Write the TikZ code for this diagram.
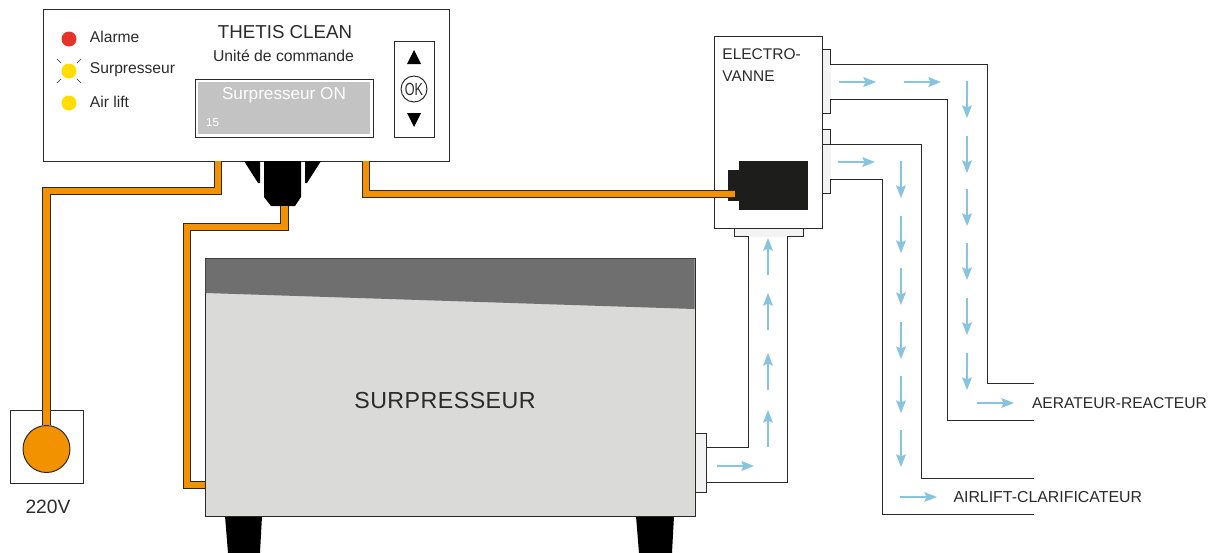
\documentclass[tikz,border=0pt]{standalone}
\usepackage{fontspec}
\setmainfont{Liberation Sans}
\usetikzlibrary{arrows.meta}

\definecolor{ink}{HTML}{2B2A29}
\definecolor{flowblue}{HTML}{86C4E0}
\definecolor{cableorange}{HTML}{F39200}
\definecolor{bodygrey}{HTML}{DADAD9}
\definecolor{lidgrey}{HTML}{706F6F}
\definecolor{screengrey}{HTML}{C3C3C3}
\definecolor{flangegrey}{HTML}{F3F3F3}
\definecolor{ledred}{HTML}{E6332A}
\definecolor{ledyellow}{HTML}{FFDD00}
\definecolor{solid}{HTML}{1D1D1B}

\tikzset{
	box/.style 2 args={draw=ink, rectangle, inner sep=0, outer sep=0, minimum width=#1*0.025cm, minimum height=#2*0.025cm},
	lab/.style={font=\fontsize{#1}{#1}\selectfont, inner sep=0, text=ink},
	led/.style={circle, inner sep=0, minimum size=15*0.025cm},
	cable/.style={draw=ink, line width=0.75pt, double=cableorange, double distance=4.5pt},
	pipe/.style={draw=ink, line width=0.7pt},
	flow/.style={draw=flowblue, line width=0.8pt, ->},
}

\begin{document}
\begin{tikzpicture}[x=0.025cm, y=-0.025cm, line width=0.7pt, >={Stealth[length=9pt, width=7pt, inset=1.5pt]}]
	\useasboundingbox (0,0) rectangle (1219,553);

	% compressor
	\fill [solid] (225,516) -- (262,516) -- (260,553) -- (228,553) -- cycle;
	\fill [solid] (636,516) -- (674,516) -- (672,553) -- (639,553) -- cycle;
	\node [box={490}{258}, fill=bodygrey] (surpresseur) at (450,387) {};
	\fill [lidgrey] (205.5,258.5) -- (694.5,258.5) -- (694.5,309) -- (205.5,293) -- cycle;
	\node [lab=16.5] (surplabel) at (445,401) {\addfontfeatures{LetterSpace=2}SURPRESSEUR};
	\node [box={11}{59}, fill=flangegrey] (outlet) at (701,462.5) {};

	% control unit
	\node [box={406}{152}] (panel) at (246,85) {};
	\node [led, fill=ledred] (ledalarm) at (69,39) {};
	\node [led, fill=ledyellow] (ledsurp) at (69,71) {};
	\node [led, fill=ledyellow] (ledair) at (69,103) {};
	\foreach \a in {45,135,225,315}
		\draw [line width=0.5pt, ink] (ledsurp.center) ++(\a:11) -- ++(\a:6);
	\node [lab=11.1, anchor=west] (txtalarm) at (89.5,37) {Alarme};
	\node [lab=11.1, anchor=west] (txtsurp) at (89.5,70) {Surpresseur};
	\node [lab=11.1, anchor=west] (txtair) at (89.5,102) {Air lift};
	\node [lab=13.3] (title) at (285,32) {THETIS CLEAN};
	\node [lab=11.2] (subtitle) at (283.5,56) {Unité de commande};
	\node [box={178}{58}, fill=white] (display) at (284,108) {};
	\node [box={172}{52}, draw=none, fill=screengrey] (screen) at (284,108) {};
	\node [lab=12.2, text=white] (screentext) at (284,95) {Surpresseur ON};
	\node [lab=8.3, text=white] (screencount) at (212.5,122.5) {15};
	\node [box={40}{96}] (keys) at (414,89) {};
	\node [circle, draw=ink, inner sep=0, minimum size=26*0.025cm] (ok) at (414,89) {};
	\node [lab=12.5] (oktext) at (414,89.5) {\addfontfeatures{FakeStretch=0.72}OK};
	\fill [solid] (414,50) -- (421,64) -- (407,64) -- cycle;
	\fill [solid] (414,127) -- (421,113) -- (407,113) -- cycle;

	% plug under the control unit
	\fill [solid] (264,161) -- (301,161) -- (301,197) -- (295,206) -- (271,206) -- (264,197) -- cycle;
	\fill [solid] (244,161) -- (260,161) -- (260,183) -- (258,183) -- cycle;
	\fill [solid] (305,161) -- (321,161) -- (307,183) -- (305,183) -- cycle;

	% mains socket
	\node [box={73}{73}] (socket) at (46.5,446.5) {};
	\node [circle, draw=ink, fill=cableorange, inner sep=0, minimum size=47*0.025cm] (mains) at (46.5,449) {};
	\node [lab=13.7] (voltage) at (48,507) {220V};

	% solenoid valve
	\node [box={8}{64}, fill=flangegrey] (flangeA) at (826,81) {};
	\node [box={8}{64}, fill=flangegrey] (flangeB) at (826,161) {};
	\node [box={69}{8}, fill=flangegrey] (flangeC) at (768.5,232) {};
	\fill [flangegrey] (822,64) rectangle (831,99);
	\fill [flangegrey] (822,144) rectangle (831,179);
	\fill [flangegrey] (749,228) rectangle (788,237);
	\node [box={108}{192}] (valve) at (768,132) {};
	\node [box={69}{49}, draw=none, fill=solid] (coil) at (773.5,185.5) {};
	\node [box={11}{31}, draw=none, fill=solid] (coilstub) at (733.5,185.5) {};
	\node [lab=11, anchor=west] (valvetop) at (722,54) {ELECTRO-};
	\node [lab=11, anchor=west] (valvebot) at (722,76) {VANNE};

	% air lines
	\coordinate (aerA) at (1034,383);
	\coordinate (aerB) at (1034,420);
	\coordinate (cmdA) at (1034,478);
	\coordinate (cmdB) at (1034,514);
	\draw [pipe] (830,64) -- (987,64) -- (987,383) -- (aerA);
	\draw [pipe] (830,99) -- (947,99) -- (947,420) -- (aerB);
	\draw [pipe] (822,144) -- (921,144) -- (921,478) -- (cmdA);
	\draw [pipe] (830,179) -- (882,179) -- (882,514) -- (cmdB);
	\draw [pipe] (outlet.east |- 0,447) -- (748,447) -- (748,236);
	\draw [pipe] (outlet.east |- 0,482) -- (787,482) -- (787,236);
	\node [lab=11.1, anchor=west] (aerlabel) at (1031.5,403) {AERATEUR-REACTEUR};
	\node [lab=11.3, anchor=west] (cmdlabel) at (953,497) {AIRLIFT-CLARIFICATEUR};

	% direction of the air
	\foreach \x in {839,904}
		\draw [flow] (\x,82) -- ++(37,0);
	\foreach \y in {81,136,189,243,298,353}
		\draw [flow] (967,\y) -- ++(0,37);
	\foreach \y in {161,216,268,322,376,430}
		\draw [flow] (901,\y) -- ++(0,37);
	\foreach \y in {275,330,390,447}
		\draw [flow] (768,\y) -- ++(0,-37);
	\draw [flow] (838,162) -- ++(37,0);
	\draw [flow] (977,403) -- ++(37,0);
	\draw [flow] (900,497) -- ++(37,0);
	\draw [flow] (717,466) -- ++(37,0);

	% power cables
	\coordinate (tapA) at (218,161);
	\coordinate (tapB) at (284.5,206);
	\coordinate (tapC) at (366,161);
	\draw [cable] (tapA) -- (218,191) -- (46.5,191) -- (mains.north);
	\draw [cable] (tapB) -- (284.5,227) -- (187,227) -- (187,485) -- (surpresseur.west |- 0,485);
	\draw [cable] (tapC) -- (366,194) -- (735,194);
\end{tikzpicture}
\end{document}
